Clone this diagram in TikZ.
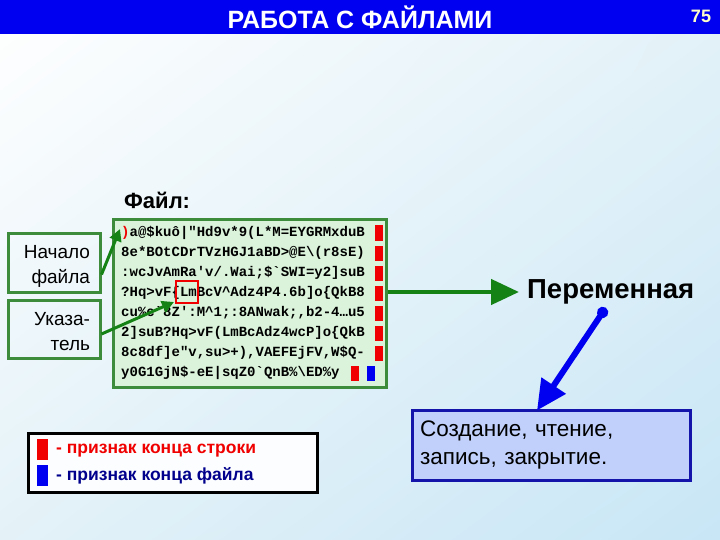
\documentclass[tikz,border=0pt]{standalone}
\usepackage{fontspec}
\setmainfont{Liberation Sans}
\setmonofont{Liberation Mono}
\usetikzlibrary{arrows.meta,calc,shadings}
\definecolor{titleblue}{RGB}{0,0,240}
\definecolor{boxgreen}{RGB}{60,140,60}
\definecolor{arrgreen}{RGB}{20,130,20}
\definecolor{filefill}{RGB}{218,243,218}
\definecolor{eolred}{RGB}{240,0,0}
\definecolor{eofblue}{RGB}{0,0,240}
\definecolor{opsfill}{RGB}{192,208,250}
\definecolor{opsdraw}{RGB}{20,20,170}
\definecolor{navytext}{RGB}{0,0,140}
\definecolor{bgblue}{RGB}{200,230,246}
\definecolor{bgmid}{RGB}{228,242,248}
\definecolor{numyellow}{RGB}{255,255,200}
\tikzset{
  monoline/.style={anchor=west, inner sep=0pt, font=\ttfamily\bfseries\fontsize{14}{14}\selectfont},
  eolmark/.style={fill=eolred, minimum width=8pt, minimum height=15pt, inner sep=0pt},
  eofmark/.style={fill=eofblue, minimum width=8pt, minimum height=15pt, inner sep=0pt},
  leftbox/.style={draw=boxgreen, line width=3pt, minimum width=92pt, inner sep=0pt},
  lefttext/.style={text width=74pt, inner sep=0pt, align=right, font=\fontsize{19}{25}\selectfont},
  garrow/.style={draw=arrgreen, line width=3pt, -{Triangle[length=12pt,width=12pt]}},
  bigarrow/.style={draw=arrgreen, line width=4.5pt, -{Triangle[length=28pt,width=25pt]}},
  barrow/.style={draw=eofblue, line width=6pt, {Circle[length=11pt]}-{Triangle[length=30pt,width=28pt]}},
}
\begin{document}
\begin{tikzpicture}[x=1pt,y=-1pt]
\useasboundingbox (0,0) rectangle (720,540);
\shade[upper left=white, upper right=bgmid, lower left=bgmid, lower right=bgblue] (0,0) rectangle (720,540);
\fill[titleblue] (0,0) rectangle (720,34);
\node[text=white, font=\bfseries\fontsize{25}{25}\selectfont] (title) at (360,17) {РАБОТА С ФАЙЛАМИ};
\node[text=numyellow, font=\bfseries\fontsize{18}{18}\selectfont] (num) at (701,16) {75};

\node[anchor=base west, inner sep=0pt, font=\bfseries\fontsize{22}{22}\selectfont] (fl) at (124,209) {Файл:};

\node[draw=boxgreen, fill=filefill, line width=3pt, minimum width=273pt, minimum height=167pt] (file) at (249.5,303.5) {};

\node[monoline] (l1) at (121,233) {\textcolor{eolred}{)}a@\$kuô|"Hd9v*9(L*M=EYGRMxduB};
\node[monoline] (l2) at (121,253) {8e*BOtCDrTVzHGJ1aBD>@E\textbackslash(r8sE)};
\node[monoline] (l3) at (121,273) {:wcJvAmRa'v/.Wai;\$`SWI=y2]suB};
\node[monoline] (l4) at (121,293) {?Hq>vF\{LmBcV\textasciicircum Adz4P4.6b]o\{QkB8};
\node[monoline] (l5) at (121,313) {cu\%c`8Z':M\textasciicircum 1;:8ANwak;,b2-4…u5};
\node[monoline] (l6) at (121,333) {2]suB?Hq>vF(LmBcAdz4wcP]o\{QkB};
\node[monoline] (l7) at (121,353) {8c8df]e"v,su>+),VAEFEjFV,W\$Q-};
\node[monoline] (l8) at (121,373) {y0G1GjN\$-eE|sqZ0`QnB\%\textbackslash ED\%y};

\foreach \i/\y in {1/233,2/253,3/273,4/293,5/313,6/333,7/353}
  \node[eolmark] (e\i) at (379,\y) {};
\node[eolmark] (e8) at (355,373) {};
\node[eofmark] (eof) at (371,373) {};

\node[draw=eolred, line width=2pt, minimum width=22pt, minimum height=22pt, inner sep=0pt] (ptr) at (187,292) {};

\node[leftbox, minimum height=59pt] (start) at (54,262.5) {};
\node[lefttext] (startt) at (53,266) {Начало\\файла};
\node[leftbox, minimum height=58pt] (pointer) at (54,329) {};
\node[lefttext] (pointert) at (53,332) {Указа-\\тель};

\draw[garrow] ([yshift=-12pt]start.east) -- ([xshift=-1pt,yshift=4pt]l1.west);
\draw[garrow] ([yshift=-5pt]pointer.east) -- ([xshift=-1pt,yshift=2pt]ptr.south west);

\node[anchor=west, inner xsep=8pt, font=\bfseries\fontsize{27.5}{27.5}\selectfont] (var) at (519,292) {Переменная};
\draw[bigarrow] (file.east |- var.west) -- (var.west);

\node[draw=opsdraw, fill=opsfill, line width=3pt, minimum width=278pt, minimum height=70pt, text width=262pt, inner xsep=8pt, align=left, font=\fontsize{22.5}{28}\selectfont] (ops) at (551,445) {Создание, чтение,\\запись, закрытие.};
\draw[barrow] ([xshift=-5pt,yshift=0pt]var.south) -- ([xshift=-14pt,yshift=-2pt]ops.north);

\node[draw=black, fill=white!85!bgmid, line width=3pt, minimum width=289pt, minimum height=59pt] (legend) at (172.5,462.5) {};
\node[fill=eolred, minimum width=11pt, minimum height=21pt, inner sep=0pt] (lred) at (42,449) {};
\node[fill=eofblue, minimum width=11pt, minimum height=21pt, inner sep=0pt] (lblue) at (42,475) {};
\node[anchor=west, inner sep=0pt, text=eolred, font=\bfseries\fontsize{17.5}{17.5}\selectfont] (t1) at (56,451) {- признак конца строки};
\node[anchor=west, inner sep=0pt, text=navytext, font=\bfseries\fontsize{17.5}{17.5}\selectfont] (t2) at (56,476) {- признак конца файла};
\end{tikzpicture}
\end{document}
